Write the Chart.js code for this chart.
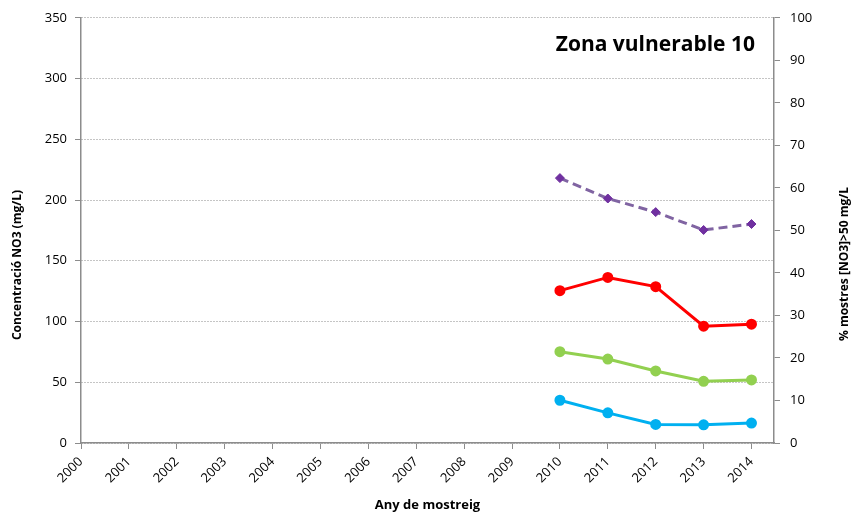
<!DOCTYPE html>
<html>
<head>
<meta charset="utf-8">
<script src="https://cdn.jsdelivr.net/npm/chart.js@4/dist/chart.umd.min.js"></script>
<style>
html, body { margin: 0; padding: 0; background: #ffffff; }
#wrap { width: 852px; height: 512px; position: relative; }
</style>
</head>
<body>
<div id="wrap"><canvas id="c" width="852" height="512"></canvas></div>
<script>
// ---- data ----
const years = [2010, 2011, 2012, 2013, 2014];
const xTickYears = [2000, 2001, 2002, 2003, 2004, 2005, 2006, 2007, 2008, 2009, 2010, 2011, 2012, 2013, 2014];
const leftTicks = [0, 50, 100, 150, 200, 250, 300, 350];
const rightTicks = [0, 10, 20, 30, 40, 50, 60, 70, 80, 90, 100];
const redValues = [125.4, 136.3, 128.7, 96.2, 97.8];
const greenValues = [75.2, 69.1, 59.3, 50.8, 51.9];
const blueValues = [35.2, 24.8, 15.3, 15.0, 16.4];
const purplePct = [62.3, 57.5, 54.3, 50.1, 51.5];
const chartTitle = 'Zona vulnerable 10';
const leftTitle = 'Concentració NO3 (mg/L)';
const rightTitle = '% mostres [NO3]>50 mg/L';
const xTitle = 'Any de mostreig';

const toPoints = (vals) => years.map((y, i) => ({ x: y, y: vals[i] }));

const FONT = '"Open Sans", "Liberation Sans", sans-serif';
const AXIS = '#8c8c8c';

const titlesPlugin = {
  id: 'titlesPlugin',
  afterDraw(chart) {
    const ctx = chart.ctx;
    const a = chart.chartArea;
    ctx.save();
    ctx.fillStyle = '#000';
    // chart title inside the plot
    ctx.font = 'bold 21px ' + FONT;
    ctx.textAlign = 'right';
    ctx.textBaseline = 'middle';
    ctx.fillText(chartTitle, a.right - 19, 45);
    // left axis title
    ctx.font = 'bold 12px ' + FONT;
    ctx.textAlign = 'center';
    ctx.save();
    ctx.translate(18, 265);
    ctx.rotate(-Math.PI / 2);
    ctx.fillText(leftTitle, 0, 0);
    ctx.restore();
    // right axis title
    ctx.save();
    ctx.translate(845, 264);
    ctx.rotate(-Math.PI / 2);
    ctx.fillText(rightTitle, 0, 0);
    ctx.restore();
    // x axis title
    ctx.font = 'bold 13px ' + FONT;
    ctx.fillText(xTitle, (a.left + a.right) / 2, 505);
    ctx.restore();
  }
};

new Chart(document.getElementById('c'), {
  type: 'line',
  data: {
    datasets: [
      {
        label: '% mostres >50 mg/L',
        data: toPoints(purplePct),
        yAxisID: 'y2',
        borderColor: '#8064A2',
        borderWidth: 3,
        borderDash: [9, 5],
        pointStyle: 'rectRot',
        pointRadius: 4.5,
        pointBackgroundColor: '#7030A0',
        pointBorderColor: '#7030A0',
        pointBorderWidth: 1,
        tension: 0
      },
      {
        label: 'Red',
        data: toPoints(redValues),
        yAxisID: 'y',
        borderColor: '#FF0000',
        borderWidth: 3,
        pointRadius: 4,
        pointBackgroundColor: '#FF0000',
        pointBorderColor: '#FF0000',
        tension: 0
      },
      {
        label: 'Green',
        data: toPoints(greenValues),
        yAxisID: 'y',
        borderColor: '#92D050',
        borderWidth: 3,
        pointRadius: 4,
        pointBackgroundColor: '#92D050',
        pointBorderColor: '#92D050',
        tension: 0
      },
      {
        label: 'Blue',
        data: toPoints(blueValues),
        yAxisID: 'y',
        borderColor: '#00B0F0',
        borderWidth: 3,
        pointRadius: 4,
        pointBackgroundColor: '#00B0F0',
        pointBorderColor: '#00B0F0',
        tension: 0
      }
    ]
  },
  options: {
    responsive: false,
    animation: false,
    devicePixelRatio: 1,
    layout: { padding: { top: 16, left: 0, right: 0, bottom: 0 } },
    plugins: { legend: { display: false }, tooltip: { enabled: false } },
    scales: {
      x: {
        type: 'linear',
        position: 'bottom',
        min: xTickYears[0],
        max: xTickYears[xTickYears.length - 1] + 0.47,
        afterBuildTicks: (s) => { s.ticks = xTickYears.map(v => ({ value: v })); },
        afterFit: (s) => { s.height = 69; },
        ticks: {
          stepSize: 1,
          autoSkip: false,
          minRotation: 45,
          maxRotation: 45,
          padding: 5,
          color: '#000',
          font: { family: FONT, size: 13 },
          callback: (v) => String(v)
        },
        grid: { drawOnChartArea: false, drawTicks: true, tickLength: 6, tickColor: AXIS, color: AXIS },
        border: { display: true, color: AXIS, width: 1.5 }
      },
      y: {
        position: 'left',
        min: 0,
        max: leftTicks[leftTicks.length - 1],
        afterBuildTicks: (s) => { s.ticks = leftTicks.map(v => ({ value: v })); },
        afterFit: (s) => { s.width = 81; },
        ticks: { stepSize: 50, padding: 8, color: '#000', font: { family: FONT, size: 13 } },
        grid: { color: '#8a8a8a', lineWidth: 1, drawTicks: true, tickLength: 6, tickColor: AXIS, tickBorderDash: [] },
        border: { display: true, color: AXIS, width: 1.5, dash: [1, 2] }
      },
      y2: {
        position: 'right',
        min: 0,
        max: rightTicks[rightTicks.length - 1],
        afterBuildTicks: (s) => { s.ticks = rightTicks.map(v => ({ value: v })); },
        afterFit: (s) => { s.width = 78; },
        ticks: { stepSize: 10, padding: 10, color: '#000', font: { family: FONT, size: 13 } },
        grid: { drawOnChartArea: false, drawTicks: true, tickLength: 6, tickColor: AXIS, color: AXIS },
        border: { display: true, color: AXIS, width: 1.5 }
      }
    }
  },
  plugins: [titlesPlugin]
});
</script>
</body>
</html>
